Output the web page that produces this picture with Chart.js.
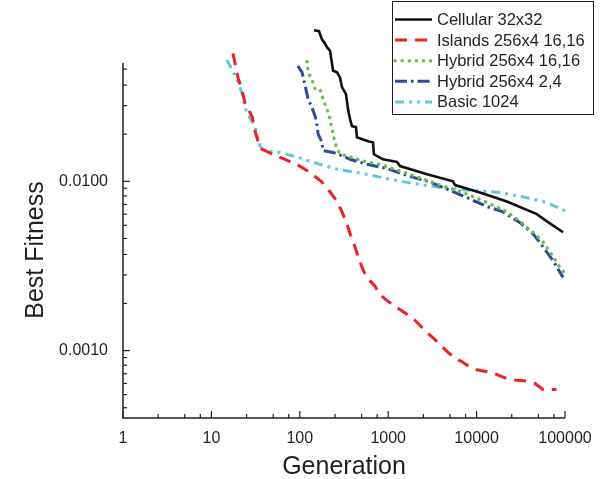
<!DOCTYPE html>
<html>
<head>
<meta charset="utf-8">
<script src="https://cdn.jsdelivr.net/npm/chart.js@4.4.0/dist/chart.umd.min.js"></script>
<style>
  body { margin: 0; background: #fff; }
  #wrap { width: 602px; height: 479px; }
</style>
</head>
<body>
<div id="wrap"><canvas id="fitChart" width="602" height="479"></canvas></div>
<script>
const seriesNames = ['Cellular 32x32', 'Islands 256x4 16,16', 'Hybrid 256x4 16,16', 'Hybrid 256x4 2,4', 'Basic 1024'];

// [generation, best fitness]
const cellular = [
  [145, 0.078], [165, 0.077], [178, 0.069], [190, 0.066], [203, 0.062], [220, 0.059],
  [238, 0.045], [264, 0.044], [285, 0.041], [300, 0.036], [333, 0.0327], [351, 0.0267],
  [370, 0.0233], [389, 0.0212], [432, 0.0209], [443, 0.0182], [600, 0.0172], [673, 0.0170],
  [690, 0.01445], [873, 0.0135], [1259, 0.0130], [1360, 0.0123], [2750, 0.0110],
  [5400, 0.0100], [5700, 0.0095], [10900, 0.0086], [22000, 0.0076], [48000, 0.0064],
  [62500, 0.0058], [95000, 0.0050]
];
const islands = [
  [17.5, 0.057], [18.5, 0.050], [20, 0.041], [22, 0.035], [24, 0.029], [29, 0.024],
  [31, 0.020], [34, 0.017], [37, 0.0155], [55, 0.0141], [68, 0.0135], [100, 0.0123],
  [130, 0.0113], [178, 0.0099], [208, 0.0090], [264, 0.0076], [300, 0.0066], [342, 0.0056],
  [370, 0.0049], [421, 0.0041], [455, 0.0036], [519, 0.0030], [576, 0.0027], [709, 0.0024],
  [808, 0.00214], [944, 0.0020], [1194, 0.00182], [1360, 0.00175], [1764, 0.00159],
  [2010, 0.00151], [2475, 0.00135], [2750, 0.00128], [3385, 0.00116], [4625, 0.00099],
  [5700, 0.00090], [6840, 0.00086], [8420, 0.00080], [10100, 0.00077], [13100, 0.00075],
  [16150, 0.00073], [20950, 0.00069], [27200, 0.00067], [38100, 0.00066], [45800, 0.00064],
  [56400, 0.00059], [80000, 0.00059]
];
const hybrid1616 = [
  [121, 0.051], [124, 0.044], [137, 0.040], [149, 0.035], [169, 0.035], [183, 0.0306],
  [203, 0.0267], [220, 0.0233], [231, 0.0203], [250, 0.0170], [264, 0.0155], [285, 0.0145],
  [342, 0.0141], [576, 0.0130], [808, 0.0126], [1360, 0.0115], [2475, 0.0103], [4625, 0.0092],
  [7020, 0.0086], [13100, 0.0075], [22000, 0.0066], [31000, 0.0058], [43500, 0.0050],
  [56400, 0.0044], [73200, 0.0036], [87800, 0.0031], [97500, 0.0029]
];
const hybrid24 = [
  [95, 0.048], [106, 0.044], [114, 0.0375], [124, 0.0306], [137, 0.0274], [149, 0.0243],
  [157, 0.0212], [161, 0.0190], [178, 0.0170], [183, 0.0152], [238, 0.0148], [308, 0.0141],
  [370, 0.0135], [576, 0.0126], [969, 0.0119], [1764, 0.0107], [2970, 0.0099], [4625, 0.0090],
  [7790, 0.0080], [13100, 0.0071], [19900, 0.0066], [31000, 0.0057], [43500, 0.0049],
  [56400, 0.0041], [73200, 0.0034], [95000, 0.0027]
];
const basic1024 = [
  [15, 0.052], [17, 0.046], [19.5, 0.040], [22, 0.0336], [25, 0.0256], [31, 0.0212],
  [35.5, 0.0161], [38, 0.0155], [48, 0.0150], [60, 0.0148], [93, 0.0139], [169, 0.0126],
  [264, 0.0118], [576, 0.0110], [1360, 0.0100], [2290, 0.0096], [3855, 0.0092], [6000, 0.0090],
  [13100, 0.0087], [18400, 0.0086], [37000, 0.0080], [62500, 0.0075], [100000, 0.0067]
];

const xTicks = [1, 10, 100, 1000, 10000, 100000];
const xTickLabels = ['1', '10', '100', '1000', '10000', '100000'];
const yTicks = [0.001, 0.01];
const yTickLabels = ['0.0010', '0.0100'];

const ink = '#231f20';
const toXY = (pts) => pts.map(([x, y]) => ({ x, y }));

// Origin style ticks: inside, minors at 2.5/5/7.5 on x, linear ninths on y
const axisTicks = {
  id: 'axisTicks',
  afterDraw(chart) {
    const { ctx, chartArea: { left, right, top, bottom }, scales: { x, y } } = chart;
    ctx.save();
    ctx.strokeStyle = ink;
    ctx.lineWidth = 1.5;
    ctx.beginPath();
    ctx.moveTo(left, top);
    ctx.lineTo(left, bottom);
    ctx.lineTo(right, bottom);
    ctx.stroke();

    ctx.lineWidth = 1.2;
    const tick = (px, py, dx, dy) => {
      ctx.beginPath();
      ctx.moveTo(px, py);
      ctx.lineTo(px + dx, py + dy);
      ctx.stroke();
    };
    for (let e = 0; e <= 5; e++) {
      const base = Math.pow(10, e);
      tick(x.getPixelForValue(base), bottom, 0, -7);
      if (e < 5) {
        [2.5, 5, 7.5].forEach(m => tick(x.getPixelForValue(base * m), bottom, 0, -4));
      }
    }
    for (let e = -4; e <= -2; e++) {
      const base = Math.pow(10, e);
      if (base >= y.min && base <= y.max) tick(left, y.getPixelForValue(base), 7, 0);
      for (let k = 1; k <= 9; k++) {
        const v = base * (1 + 0.9 * k);
        if (v >= y.min && v <= y.max) tick(left, y.getPixelForValue(v), 4, 0);
      }
    }
    ctx.restore();
  }
};

const axisTitles = {
  id: 'axisTitles',
  afterDraw(chart) {
    const { ctx } = chart;
    ctx.save();
    ctx.fillStyle = ink;
    ctx.font = '25px "Liberation Sans", Arial, sans-serif';
    ctx.textAlign = 'center';
    ctx.textBaseline = 'middle';
    ctx.fillText('Generation', 344, 467);
    ctx.translate(36, 250);
    ctx.rotate(-Math.PI / 2);
    ctx.fillText('Best Fitness', 0, 0);
    ctx.restore();
  }
};

const boxLegend = {
  id: 'boxLegend',
  afterDraw(chart) {
    const { ctx } = chart;
    ctx.save();
    ctx.fillStyle = '#fff';
    ctx.fillRect(392, 1, 202, 114);
    ctx.strokeStyle = ink;
    ctx.lineWidth = 1;
    ctx.strokeRect(392.5, 1.5, 201, 113);
    ctx.font = '16.5px "Liberation Sans", Arial, sans-serif';
    ctx.textBaseline = 'middle';
    chart.data.datasets.forEach((ds, i) => {
      const yy = 19.5 + i * 20.6;
      ctx.strokeStyle = ds.borderColor;
      ctx.lineWidth = ds.borderWidth;
      ctx.setLineDash(ds.borderDash || []);
      ctx.lineCap = ds.borderCapStyle || 'butt';
      ctx.beginPath();
      ctx.moveTo(395, yy);
      ctx.lineTo(432, yy);
      ctx.stroke();
      ctx.setLineDash([]);
      ctx.fillStyle = ink;
      ctx.fillText(ds.label, 437, yy + 1);
    });
    ctx.restore();
  }
};

const line = (label, pts, color, width, dash, cap) => ({
  label,
  data: toXY(pts),
  showLine: true,
  borderColor: color,
  backgroundColor: color,
  borderWidth: width,
  borderDash: dash,
  borderCapStyle: cap || 'butt',
  pointRadius: 0,
  pointHoverRadius: 0,
  tension: 0,
  clip: false
});

new Chart(document.getElementById('fitChart'), {
  type: 'scatter',
  data: {
    datasets: [
      line(seriesNames[0], cellular, '#111111', 2.6, []),
      line(seriesNames[1], islands, '#ed2024', 3, [12, 8]),
      line(seriesNames[2], hybrid1616, '#6cbd45', 3.5, [0.1, 7], 'round'),
      line(seriesNames[3], hybrid24, '#2b4c9e', 3, [12, 4, 2.5, 4]),
      line(seriesNames[4], basic1024, '#62c8d9', 3, [9, 5, 3, 5, 3, 5])
    ]
  },
  options: {
    responsive: false,
    animation: false,
    layout: { padding: { top: 63, right: 37, left: 0, bottom: 0 } },
    plugins: {
      legend: { display: false },
      tooltip: { enabled: false }
    },
    scales: {
      x: {
        type: 'logarithmic',
        min: 1,
        max: 100000,
        grid: { display: false },
        border: { display: false },
        afterBuildTicks: (s) => { s.ticks = xTicks.map(v => ({ value: v })); },
        afterFit: (s) => { s.height = 61; s.paddingLeft = 0; s.paddingRight = 0; },
        ticks: {
          autoSkip: false,
          maxRotation: 0,
          padding: 3,
          color: ink,
          font: { family: '"Liberation Sans", Arial, sans-serif', size: 16 },
          callback: (v, i) => xTickLabels[i]
        }
      },
      y: {
        type: 'logarithmic',
        min: 0.0004,
        max: 0.05,
        grid: { display: false },
        border: { display: false },
        afterBuildTicks: (s) => { s.ticks = yTicks.map(v => ({ value: v })); },
        afterFit: (s) => { s.width = 123; s.paddingTop = 0; s.paddingBottom = 0; },
        ticks: {
          autoSkip: false,
          padding: 7,
          color: ink,
          font: { family: '"Liberation Sans", Arial, sans-serif', size: 16 },
          callback: (v, i) => yTickLabels[i]
        }
      }
    }
  },
  plugins: [axisTicks, axisTitles, boxLegend]
});
</script>
</body>
</html>
